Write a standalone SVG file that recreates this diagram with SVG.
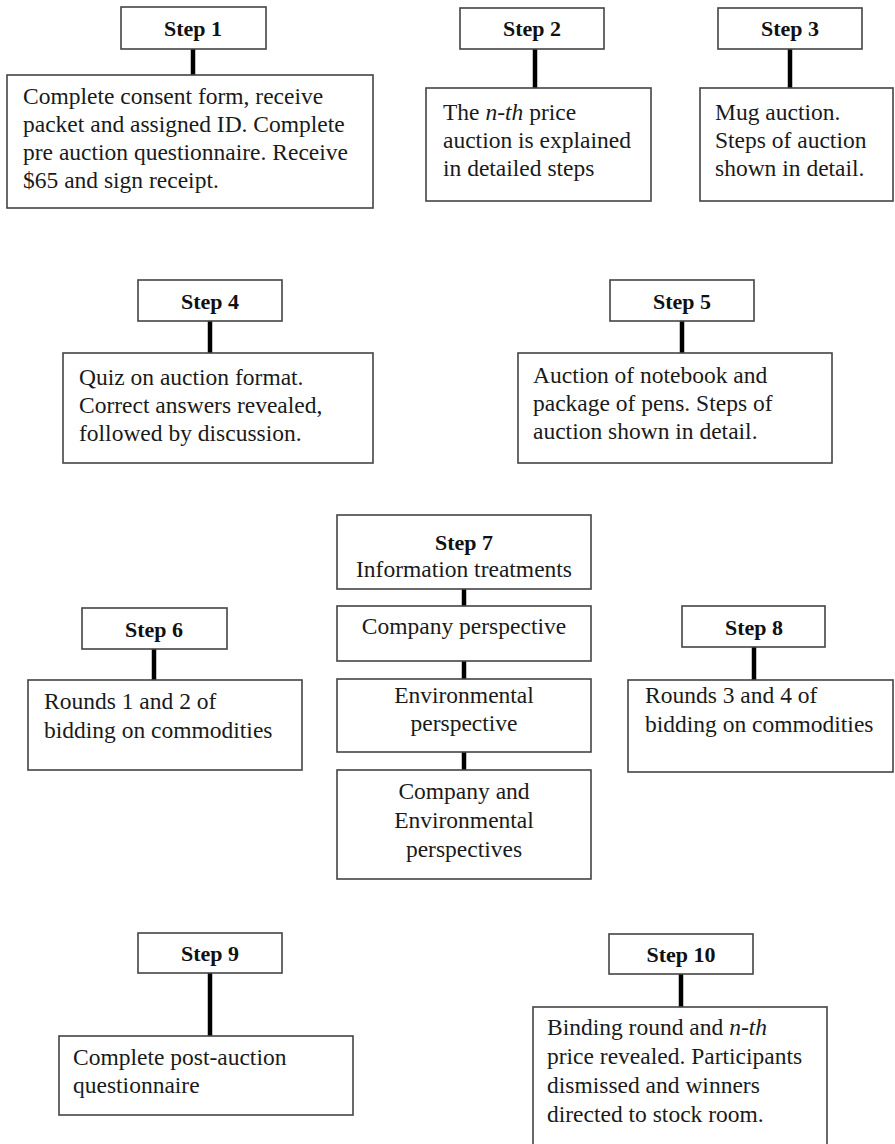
<svg xmlns="http://www.w3.org/2000/svg" width="895" height="1144" viewBox="0 0 895 1144">
<style>
.box{fill:#fff;stroke:#444;stroke-width:1.6}
.hd{font-family:"Liberation Serif","Times New Roman",serif;font-weight:bold;font-size:22px;fill:#111;text-anchor:middle}
.tx{font-family:"Liberation Serif","Times New Roman",serif;font-size:23.5px;fill:#1a1a1a}
.c{text-anchor:middle}
.ln{stroke:#000;stroke-width:4.5;fill:none}
</style>
<rect width="895" height="1144" fill="#fff"/>
<g id="connectors">
<line class="ln" x1="193" y1="49" x2="193" y2="75"/>
<line class="ln" x1="535" y1="49" x2="535" y2="88"/>
<line class="ln" x1="790" y1="49" x2="790" y2="88"/>
<line class="ln" x1="210" y1="321" x2="210" y2="353"/>
<line class="ln" x1="682" y1="321" x2="682" y2="353"/>
<line class="ln" x1="154" y1="649" x2="154" y2="680"/>
<line class="ln" x1="464" y1="589" x2="464" y2="606"/>
<line class="ln" x1="464" y1="661" x2="464" y2="679"/>
<line class="ln" x1="464" y1="752" x2="464" y2="770"/>
<line class="ln" x1="754" y1="647" x2="754" y2="680"/>
<line class="ln" x1="210" y1="973" x2="210" y2="1036"/>
<line class="ln" x1="681" y1="974" x2="681" y2="1007"/>
</g>
<g id="step1">
<rect class="box" x="121" y="7" width="145" height="42"/>
<text class="hd" x="193" y="36">Step 1</text>
<rect class="box" x="7" y="75" width="366" height="133"/>
<text class="tx" x="23" y="104">Complete consent form, receive</text>
<text class="tx" x="23" y="132">packet and assigned ID. Complete</text>
<text class="tx" x="23" y="160">pre auction questionnaire. Receive</text>
<text class="tx" x="23" y="188">$65 and sign receipt.</text>
</g>
<g id="step2">
<rect class="box" x="460" y="8" width="144" height="41"/>
<text class="hd" x="532" y="36">Step 2</text>
<rect class="box" x="426" y="88" width="225" height="113"/>
<text class="tx" x="443" y="120">The <tspan font-style="italic">n-th</tspan> price</text>
<text class="tx" x="443" y="148">auction is explained</text>
<text class="tx" x="443" y="176">in detailed steps</text>
</g>
<g id="step3">
<rect class="box" x="718" y="8" width="144" height="41"/>
<text class="hd" x="790" y="36">Step 3</text>
<rect class="box" x="700" y="88" width="193" height="113"/>
<text class="tx" x="715" y="120">Mug auction.</text>
<text class="tx" x="715" y="148">Steps of auction</text>
<text class="tx" x="715" y="176">shown in detail.</text>
</g>
<g id="step4">
<rect class="box" x="138" y="280" width="144" height="41"/>
<text class="hd" x="210" y="309">Step 4</text>
<rect class="box" x="63" y="353" width="310" height="110"/>
<text class="tx" x="79" y="385">Quiz on auction format.</text>
<text class="tx" x="79" y="413">Correct answers revealed,</text>
<text class="tx" x="79" y="441">followed by discussion.</text>
</g>
<g id="step5">
<rect class="box" x="610" y="280" width="144" height="41"/>
<text class="hd" x="682" y="309">Step 5</text>
<rect class="box" x="518" y="353" width="314" height="110"/>
<text class="tx" x="533" y="383">Auction of notebook and</text>
<text class="tx" x="533" y="411">package of pens. Steps of</text>
<text class="tx" x="533" y="439">auction shown in detail.</text>
</g>
<g id="step6">
<rect class="box" x="82" y="608" width="145" height="41"/>
<text class="hd" x="154" y="637">Step 6</text>
<rect class="box" x="28" y="680" width="274" height="90"/>
<text class="tx" x="44" y="709">Rounds 1 and 2 of</text>
<text class="tx" x="44" y="738">bidding on commodities</text>
</g>
<g id="step7">
<rect class="box" x="337" y="515" width="254" height="74"/>
<text class="hd" x="464" y="550">Step 7</text>
<text class="tx c" x="464" y="577">Information treatments</text>
</g>
<g id="company">
<rect class="box" x="337" y="606" width="254" height="55"/>
<text class="tx c" x="464" y="634">Company perspective</text>
</g>
<g id="environmental">
<rect class="box" x="337" y="679" width="254" height="73"/>
<text class="tx c" x="464" y="703">Environmental</text>
<text class="tx c" x="464" y="731">perspective</text>
</g>
<g id="both">
<rect class="box" x="337" y="770" width="254" height="109"/>
<text class="tx c" x="464" y="799">Company and</text>
<text class="tx c" x="464" y="828">Environmental</text>
<text class="tx c" x="464" y="857">perspectives</text>
</g>
<g id="step8">
<rect class="box" x="682" y="606" width="143" height="41"/>
<text class="hd" x="754" y="635">Step 8</text>
<rect class="box" x="628" y="680" width="265" height="92"/>
<text class="tx" x="645" y="703">Rounds 3 and 4 of</text>
<text class="tx" x="645" y="732">bidding on commodities</text>
</g>
<g id="step9">
<rect class="box" x="138" y="933" width="144" height="40"/>
<text class="hd" x="210" y="961">Step 9</text>
<rect class="box" x="59" y="1036" width="294" height="79"/>
<text class="tx" x="73" y="1065">Complete post-auction</text>
<text class="tx" x="73" y="1093">questionnaire</text>
</g>
<g id="step10">
<rect class="box" x="609" y="934" width="144" height="40"/>
<text class="hd" x="681" y="962">Step 10</text>
<rect class="box" x="533" y="1007" width="294" height="145"/>
<text class="tx" x="547" y="1035">Binding round and <tspan font-style="italic">n-th</tspan></text>
<text class="tx" x="547" y="1064">price revealed. Participants</text>
<text class="tx" x="547" y="1093">dismissed and winners</text>
<text class="tx" x="547" y="1122">directed to stock room.</text>
</g>
</svg>
